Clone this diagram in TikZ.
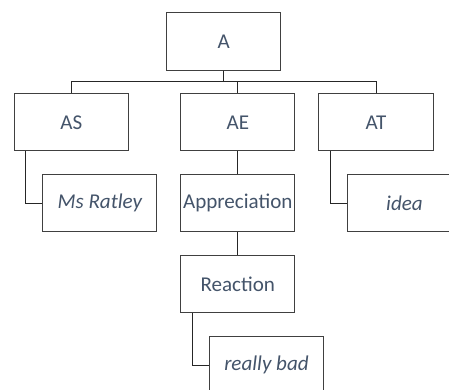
\documentclass[tikz,border=0pt]{standalone}
\usepackage{fontspec}
\setmainfont{Carlito}
\usetikzlibrary{positioning}
\definecolor{txtblue}{HTML}{44546A}
\definecolor{edge}{HTML}{404040}
\tikzset{
  box/.style={rectangle, draw=edge, line width=0.75pt, minimum width=85.7pt, minimum height=42.8pt, inner sep=1pt, align=center, text=txtblue, font=\fontsize{15.8}{19}\selectfont},
  leaf/.style={box, font=\fontsize{15.8}{19}\selectfont\itshape},
  link/.style={draw=black!85, line width=0.75pt}
}

\begin{document}
\begin{tikzpicture}[x=0.75pt, y=0.75pt]
\clip (0,0) rectangle (449,389);
\useasboundingbox (0,0) rectangle (449,389);
\node[box] (a) at (223.7,347.5) {A};
\node[box] (as) at (71.3,266.7) {AS};
\node[box] (ae) at (237.8,266.7) {AE};
\node[box] (at) at (376,266.7) {AT};
\node[leaf] (msr) at (99.8,185.7) {Ms Ratley};
\node[box] (app) at (237.8,185.7) {Appreciation};
\node[leaf] (idea) at (404.5,185.7) {idea};
\node[box] (react) at (237.8,104.8) {Reaction};
\node[leaf] (bad) at (266.5,23.8) {really bad};
% tree links
\draw[link] (a.south) -- ++(0,-11) -| (as.north);
\draw[link] (a.south) -- ++(0,-11) -| (ae.north);
\draw[link] (a.south) -- ++(0,-11) -| (at.north);
\draw[link] (ae) -- (app); \draw[link] (app) -- (react);
\draw[link] (as.south west) ++(12,0) |- (msr.west);
\draw[link] (at.south west) ++(12,0) |- (idea.west);
\draw[link] (react.south west) ++(12,0) |- (bad.west);
\end{tikzpicture}
\end{document}
